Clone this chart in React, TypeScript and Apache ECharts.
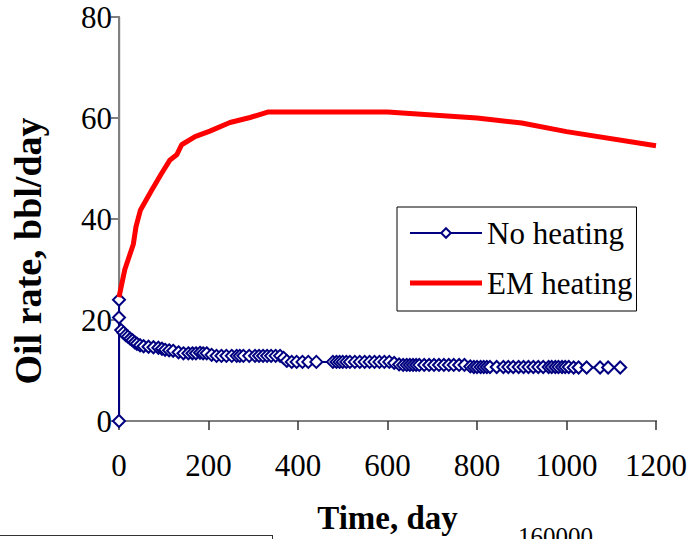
import React, { useEffect, useRef } from "react";
import * as echarts from "echarts";

const xTicks = { min: 0, max: 1200, interval: 200 };
const yTicks = { min: 0, max: 80, interval: 20 };

const noHeatingDays = [
  0, 0, 0, 5, 10, 15, 20, 25, 30, 35, 40, 47, 55, 66, 77, 88, 96, 103, 112, 121,
  133, 144, 155, 164, 172, 181, 188, 196, 207, 218, 229, 240, 252, 263, 270, 278,
  291, 304, 313, 322, 331, 340, 350, 360, 368, 375, 386, 397, 410, 423, 441, 478,
  486, 493, 500, 508, 516, 527, 538, 549, 560, 571, 582, 593, 604, 615, 626, 635,
  643, 650, 657, 664, 671, 682, 693, 704, 715, 726, 737, 748, 760, 772, 785, 793,
  800, 808, 815, 822, 829, 844, 859, 870, 881, 893, 904, 915, 926, 937, 948, 960,
  967, 975, 982, 990, 997, 1005, 1016, 1027, 1045, 1075, 1093, 1120,
];
const noHeatingRate = [
  0, 24, 20.5, 18, 17.5, 17, 16.7, 16.3, 16, 15.6, 15.3, 15, 14.8, 14.7, 14.6, 14.5, 14.3, 14.1, 14, 13.9,
  13.6, 13.4, 13.4, 13.4, 13.4, 13.5, 13.4, 13.4, 13.1, 12.9, 12.9, 12.9, 12.9, 12.9, 12.9, 12.9,
  12.9, 12.9, 12.9, 12.9, 12.9, 12.9, 12.9, 12.9, 12.5, 11.9, 11.7, 11.7, 11.7, 11.7, 11.7, 11.7,
  11.7, 11.7, 11.7, 11.7, 11.7, 11.7, 11.7, 11.7, 11.7, 11.7, 11.7, 11.7, 11.7, 11.5, 11.2, 11.1,
  11.1, 11.1, 11.1, 11.1, 11.1, 11.1, 11.1, 11.1, 11.1, 11.1, 11.1, 11.1, 11.1, 11.1, 10.8, 10.7,
  10.7, 10.7, 10.7, 10.7, 10.7, 10.7, 10.7, 10.7, 10.7, 10.7, 10.7, 10.7, 10.7, 10.7, 10.7, 10.7,
  10.7, 10.7, 10.7, 10.7, 10.7, 10.7, 10.6, 10.6, 10.6, 10.6, 10.6, 10.6,
];

const emDays = [0, 13, 32, 38, 48, 73, 95, 114, 129, 140, 170, 203, 248, 293, 334, 600, 800, 900, 1000, 1200];
const emRate = [24.5, 30, 35, 38.5, 41.8, 45.7, 49, 51.7, 52.7, 54.7, 56.3, 57.4, 59.1, 60.1, 61.2, 61.2, 60, 59, 57.3, 54.5];

const seriesNames = ["No heating", "EM heating"];
const xTitle = "Time, day";
const yTitle = "Oil rate, bbl/day";
const strayLabel = "160000";

const SERIF = '"Liberation Serif", "Times New Roman", Times, serif';

export default function App() {
  const ref = useRef<HTMLDivElement>(null);
  useEffect(() => {
    document.body.style.margin = "0";
    if (!ref.current) return;
    const chart = echarts.init(ref.current, null, { renderer: "svg" });
    const blue = noHeatingDays.map((d, i) => [d, noHeatingRate[i]]);
    const red = emDays.map((d, i) => [d, emRate[i]]);
    chart.setOption({
      animation: false,
      backgroundColor: "#ffffff",
      grid: { left: 119, right: 32, top: 17, bottom: 118, outerBoundsMode: "none", containLabel: false },
      legend: {
        orient: "vertical",
        left: 397,
        top: 207,
        data: [
          { name: seriesNames[0] },
          { name: seriesNames[1], icon: "path://M0,0H72V5H0Z" },
        ],
        itemWidth: 72,
        itemHeight: 12,
        itemGap: 18,
        padding: [10, 4, 12, 12],
        borderColor: "#000",
        borderWidth: 1,
        backgroundColor: "#fff",
        textStyle: { fontFamily: SERIF, fontSize: 31, color: "#000", lineHeight: 32 },
      },
      xAxis: [
        {
          type: "value",
          ...xTicks,
          position: "bottom",
          name: xTitle,
          nameLocation: "middle",
          nameGap: 80,
          nameTextStyle: { fontFamily: SERIF, fontSize: 33, fontWeight: "bold", color: "#000" },
          axisLine: { show: true, lineStyle: { color: "#555", width: 2 } },
          axisTick: { show: true, inside: false, length: 9, lineStyle: { color: "#333", width: 1.5 } },
          axisLabel: {
            fontFamily: SERIF,
            fontSize: 31,
            color: "#000",
            margin: 29,
            formatter: (v: number) => String(v),
          },
          splitLine: { show: false },
        },
        {
          type: "value",
          ...xTicks,
          position: "top",
          axisLine: { show: true, lineStyle: { color: "#808080", width: 2 } },
          axisTick: { show: false },
          axisLabel: { show: false },
          splitLine: { show: false },
        },
      ],
      yAxis: [
        {
          type: "value",
          ...yTicks,
          position: "left",
          name: yTitle,
          nameLocation: "middle",
          nameGap: 72,
          nameRotate: 90,
          nameTextStyle: {
            fontFamily: SERIF,
            fontSize: 38,
            fontWeight: "bold",
            color: "#000",
            padding: [0, 64, 0, 0],
          },
          axisLine: { show: true, lineStyle: { color: "#000", width: 1.2 } },
          axisTick: { show: true, inside: false, length: 8, lineStyle: { color: "#808080", width: 2 } },
          axisLabel: { fontFamily: SERIF, fontSize: 31, color: "#000", margin: 7, formatter: (v: number) => String(v) },
          splitLine: { show: false },
        },
        {
          type: "value",
          ...yTicks,
          position: "right",
          axisLine: { show: true, lineStyle: { color: "#808080", width: 2 } },
          axisTick: { show: false },
          axisLabel: { show: false },
          splitLine: { show: false },
        },
      ],
      series: [
        {
          name: seriesNames[0],
          type: "line",
          data: blue,
          xAxisIndex: 0,
          yAxisIndex: 0,
          symbol: "emptyDiamond",
          symbolSize: 12,
          showAllSymbol: true,
          lineStyle: { color: "#000080", width: 2 },
          itemStyle: { color: "#000080", borderColor: "#000080", borderWidth: 2 },
          z: 2,
        },
        {
          name: seriesNames[1],
          type: "line",
          data: red,
          xAxisIndex: 0,
          yAxisIndex: 0,
          symbol: "none",
          lineStyle: { color: "#ff0000", width: 5 },
          itemStyle: { color: "#ff0000" },
          z: 3,
        },
      ],
      graphic: [
        { type: "line", shape: { x1: 0, y1: 535.5, x2: 272, y2: 535.5 }, style: { stroke: "#333", lineWidth: 1 } },
        { type: "line", shape: { x1: 272.5, y1: 535, x2: 272.5, y2: 539 }, style: { stroke: "#333", lineWidth: 1 } },
        {
          type: "text",
          x: 518,
          y: 524,
          style: { text: strayLabel, fontFamily: SERIF, fontSize: 25, fill: "#000", verticalAlign: "top" },
        },
      ],
    });
    return () => chart.dispose();
  }, []);
  return <div ref={ref} style={{ width: 688, height: 539, position: "fixed", left: 0, top: 0 }} />;
}
